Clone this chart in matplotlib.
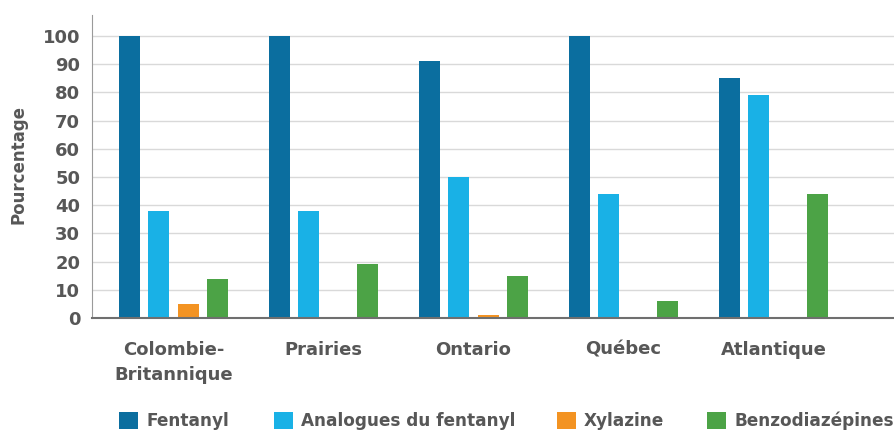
import numpy as np
import matplotlib.pyplot as plt
from matplotlib.patches import Patch

# donnees
regions = ["Colombie-\nBritannique", "Prairies", "Ontario", "Québec", "Atlantique"]
series = ["Fentanyl", "Analogues du fentanyl", "Xylazine", "Benzodiazépines"]
fentanyl = [100, 100, 91, 100, 85]
analogues = [38, 38, 50, 44, 79]
xylazine = [5, 0, 1, 0, 0]
benzo = [14, 19, 15, 6, 44]
couleurs = ["#0b6e9f", "#19b1e6", "#f39322", "#4ca346"]

plt.rcParams['font.family'] = ['DejaVu Sans']
txt = "#575757"

fig = plt.figure(figsize=(8.95, 4.30), dpi=100)
ax = fig.add_axes([92 / 895, 1 - 318 / 430, 1 - 92 / 895, (318 - 15) / 430])

x = np.arange(len(regions))
pas = 0.195
larg = 0.14
valeurs = [fentanyl, analogues, xylazine, benzo]
for i, (v, c) in enumerate(zip(valeurs, couleurs)):
    ax.bar(x + (i - 1.5) * pas, v, width=larg, color=c, zorder=3)

ax.set_xlim(-0.543, 4.81)
ax.set_ylim(0, 107.4)
ax.set_yticks(np.arange(0, 101, 10))
ax.yaxis.grid(True, color="#d9d9d9", linewidth=1.0, zorder=0)
ax.tick_params(axis='y', length=0, pad=8.5, labelsize=13, labelcolor=txt)
for t in ax.get_yticklabels():
    t.set_fontweight('bold')
ax.set_xticks(x)
ax.set_xticklabels([])
ax.tick_params(axis='x', length=0)

for s in ["top", "right"]:
    ax.spines[s].set_visible(False)
ax.spines["left"].set_color("#9a9a9a")
ax.spines["bottom"].set_color("#6f6f6f")
ax.spines["bottom"].set_linewidth(1.5)
ax.spines["bottom"].set_zorder(4)

fig.text(19 / 895, 1 - 165 / 430, "Pourcentage", rotation=90, ha="center", va="center",
         fontsize=12, color=txt, fontweight='bold')

# etiquettes des regions
for xi, lab in zip(x, regions):
    ax.annotate(lab, xy=(xi, 0), xytext=(0, -16.5), textcoords="offset points",
                ha="center", va="top", fontsize=13, color=txt, fontweight='bold',
                linespacing=1.5, annotation_clip=False)

# legende
pos_leg = [119, 274, 557, 707]
for c, nom, px in zip(couleurs, series, pos_leg):
    h = Patch(facecolor=c)
    fig.legend([h], [nom], loc="center left", bbox_to_anchor=(px / 895, 1 - 421 / 430),
               frameon=False, handlelength=1.15, handleheight=1.15, handletextpad=0.45,
               labelcolor=txt, borderaxespad=0, borderpad=0,
               prop={'weight': 'bold', 'size': 12.2})

fig.savefig("out.png", dpi=100)
